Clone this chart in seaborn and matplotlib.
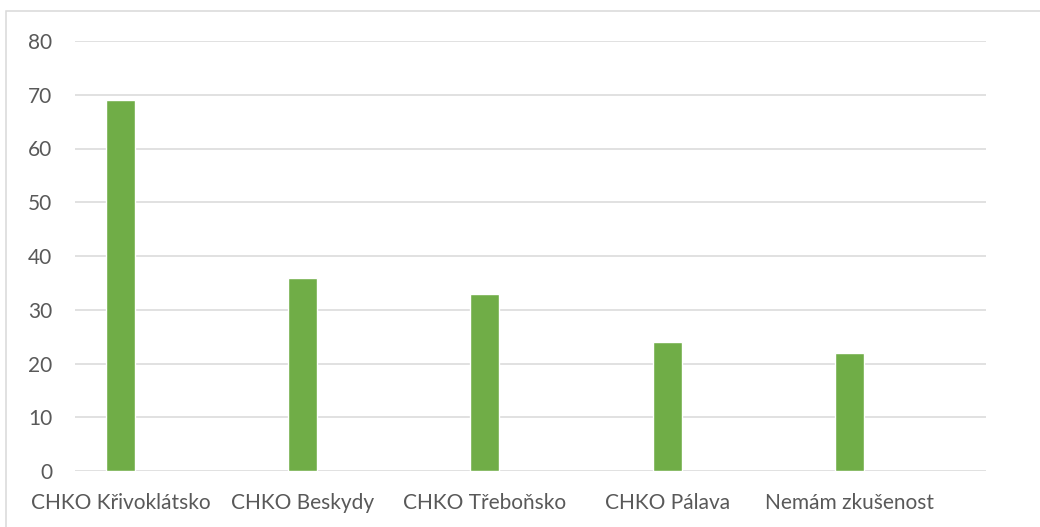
import matplotlib
matplotlib.use("Agg")
import matplotlib.pyplot as plt
import seaborn as sns
import pandas as pd
from matplotlib.patches import Rectangle

categories = ["CHKO Křivoklátsko", "CHKO Beskydy", "CHKO Třeboňsko", "CHKO Pálava", "Nemám zkušenost"]
values = [69, 36, 33, 24, 22]
yticks = [0, 10, 20, 30, 40, 50, 60, 70, 80]

sns.set_theme(style="white")
plt.rcParams['font.family'] = ['Lato', 'DejaVu Sans']

W, H = 1040, 527
fig = plt.figure(figsize=(W / 100, H / 100), dpi=100)
ax = fig.add_axes([75 / W, 1 - 471 / H, (986 - 75) / W, (471 - 41) / H])

df = pd.DataFrame({"cat": categories, "val": values})
sns.barplot(data=df, x="cat", y="val", color="#70ad47", saturation=1, width=29 / 182, ax=ax)

ax.set_xlim(-0.25, 4.75)
ax.set_ylim(0, 80)
ax.set_yticks(yticks)
ax.set_yticklabels([str(v) for v in yticks])
ax.yaxis.grid(True, color="#d9d9d9", linewidth=1.1)
ax.set_axisbelow(True)
for s in ax.spines.values():
    s.set_visible(False)
ax.set_xlabel("")
ax.set_ylabel("")
ax.tick_params(axis="both", length=0, colors="#595959", labelsize=15)
ax.tick_params(axis="y", pad=16.5)
ax.tick_params(axis="x", pad=16)

fig.patches.append(Rectangle((6 / W, -0.1), 1.2, 1 - 11 / H + 0.1, transform=fig.transFigure,
                             fill=False, edgecolor="#d9d9d9", linewidth=1.1))

fig.savefig("out.png", dpi=100)
